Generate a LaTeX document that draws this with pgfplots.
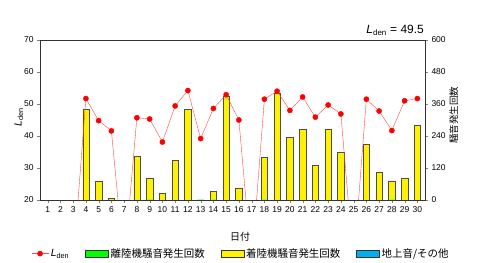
\documentclass[border=0pt]{standalone}
\usepackage{pgfplots}
\pgfplotsset{compat=1.18}
\usepackage{fontspec}
\setmainfont{Liberation Sans}
\newfontfamily\jp{Noto Sans CJK JP}
\definecolor{lred}{RGB}{255,70,70}
\definecolor{mred}{RGB}{255,0,0}
\begin{document}
\begin{tikzpicture}
\pgfplotsset{every axis/.append style={scale only axis, width=385bp, height=160bp,
  xmin=0.4, xmax=30.6, /pgf/number format/assume math mode=true,
  tick label style={font=\fontsize{8.5}{10}\selectfont},
  major tick length=3bp, tick align=outside, axis line style={black!80}},
  boxleg/.style={legend image code/.code={\draw[fill=#1, draw=black!80] (0bp,-3.5bp) rectangle (23bp,3.5bp);}}}
% bars (right axis)
\begin{axis}[at={(0,0)}, anchor=south west,
  ymin=0, ymax=600, ytick={0,120,240,360,480,600},
  ytick pos=right, yticklabel pos=right, xtick=\empty,
  ybar stacked, bar width=0.5,
  ylabel={\jp 騒音発生回数},
  ylabel style={font=\fontsize{9.5}{10}\selectfont, rotate=0, at={(axis description cs:1.075,0.53)}, anchor=center}]
\addplot[fill=green, draw=black!70] coordinates {
(1,0)(2,0)(3,0)(4,0)(5,0)(6,0)(7,0)(8,0)(9,1)(10,0)(11,0)(12,0)(13,1)(14,1)(15,0)
(16,0)(17,0)(18,1)(19,0)(20,0)(21,0)(22,0)(23,0)(24,0)(25,0)(26,0)(27,0)(28,1)(29,0)(30,0)};
\addplot[fill=yellow, draw=black!70] coordinates {
(1,0)(2,0)(3,0)(4,341)(5,69)(6,5)(7,0)(8,165)(9,79)(10,26)(11,149)(12,340)(13,0)(14,32)(15,390)
(16,44)(17,0)(18,159)(19,400)(20,234)(21,264)(22,131)(23,267)(24,179)(25,0)(26,209)(27,103)(28,68)(29,80)(30,282)};
\addplot[fill=cyan, draw=black!70] coordinates {
(1,0)(2,0)(3,0)(4,0)(5,0)(6,0)(7,0)(8,0)(9,0)(10,0)(11,0)(12,0)(13,0)(14,0)(15,0)
(16,0)(17,0)(18,0)(19,0)(20,0)(21,0)(22,0)(23,0)(24,0)(25,0)(26,0)(27,0)(28,0)(29,0)(30,0)};
\end{axis}
% Lden (left axis)
\begin{axis}[name=main, at={(0,0)}, anchor=south west,
  ymin=20, ymax=70, ytick={20,30,40,50,60,70}, ytick pos=left,
  xtick={1,...,30}, xtick pos=bottom,
  xlabel={\jp 日付},
  xlabel style={font=\fontsize{10}{11}\selectfont, at={(axis description cs:0.52,-0.23)}, anchor=center},
  ylabel={{\itshape L}\textsubscript{den}},
  ylabel style={font=\fontsize{10.5}{11}\selectfont, at={(axis description cs:-0.055,0.52)}, anchor=center},
  legend style={at={(axis description cs:0.522,-0.335)}, anchor=center, draw=none, fill=none,
    legend columns=4, font=\fontsize{10.5}{12}\selectfont,
    /tikz/every even column/.append style={column sep=14bp}},
  legend cell align=left]
\addplot[lred, thin, mark=*, mark size=2.6bp, mark options={fill=mred, draw=mred}] coordinates {
(1,0)(2,0)(3,0)(4,51.7)(5,44.8)(6,41.6)(7,0)(8,45.7)(9,45.3)(10,38.1)(11,49.4)(12,54.2)(13,39.2)(14,48.6)(15,52.9)
(16,45.0)(17,0)(18,51.5)(19,54.0)(20,48.0)(21,52.2)(22,45.9)(23,49.7)(24,46.9)(25,0)(26,51.5)(27,47.8)(28,41.7)(29,51.0)(30,51.7)};
\addlegendentry{{\itshape L}\textsubscript{den}}
\addlegendimage{boxleg=green}
\addlegendentry{\jp 離陸機騒音発生回数}
\addlegendimage{boxleg=yellow}
\addlegendentry{\jp 着陸機騒音発生回数}
\addlegendimage{boxleg=cyan}
\addlegendentry{\jp 地上音/その他}
\end{axis}
\node[anchor=south east, font=\fontsize{12}{13}\selectfont, inner sep=1bp] at ([yshift=3bp]main.north east) {{\itshape L}\textsubscript{den} = 49.5};
\useasboundingbox (-40bp,-63bp) rectangle (440bp,200bp);
\end{tikzpicture}
\end{document}
